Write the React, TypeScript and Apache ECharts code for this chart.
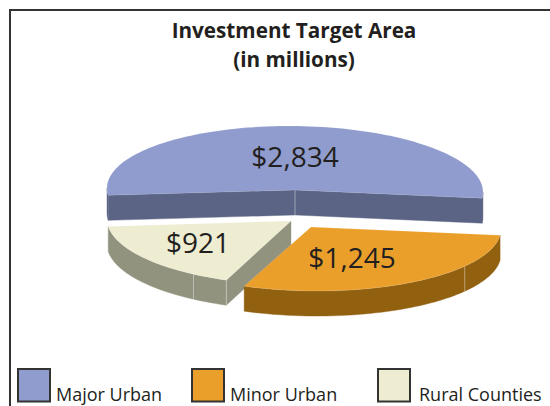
import React, { useEffect, useRef } from "react";
import * as echarts from "echarts";

const titleLines = ["Investment Target Area", "(in millions)"];
const categories = ["Major Urban", "Minor Urban", "Rural Counties"];
const investment = [2834, 1245, 921];
const valueLabels = ["$2,834", "$1,245", "$921"];

const FONT = '"Open Sans", "Noto Sans", sans-serif';
const INK = "#231F20";
const topColors = ["#8F9CCD", "#EB9F2B", "#EEECD1"];
const sideColors = ["#5C6485", "#916110", "#92937F"];
const apexes = [[295, 190], [311, 227], [291, 221]];
const radiiX = [188, 190, 184];
const labelOffsets = [[0, -34], [41, 30], [-93, 21]];
const sideSeams = [[], [36], [122]];
const layers = [1, 3, 2];
const legendSwatchX = [18, 192, 378];
const legendTextX = [56, 230, 419];

const RY = 64;
const DEPTH = 25;
const SHEAR = 0.0107;
const FLATTEN = 0.5; // perspective compression of the slice angles
const START_DEG = 11;

const rad = (d: number) => (d * Math.PI) / 180;

function project(cx: number, cy: number, rx: number, phiDeg: number): number[] {
  const p = rad(phiDeg);
  const t = Math.atan2(FLATTEN * Math.sin(p), Math.cos(p));
  const dx = rx * Math.cos(t);
  return [cx + dx, cy + RY * Math.sin(t) + SHEAR * dx];
}

function screenPoint(cx: number, cy: number, rx: number, thetaDeg: number): number[] {
  const dx = rx * Math.cos(rad(thetaDeg));
  return [cx + dx, cy + RY * Math.sin(rad(thetaDeg)) + SHEAR * dx];
}

const down = (pts: number[][]) => pts.map(([x, y]) => [x, y + DEPTH]);

function renderSlice(params: any, api: any) {
  const i = params.dataIndex;
  const value = api.value(0);
  const total = investment.reduce((a, b) => a + b, 0);
  const before = investment.reduce((a, b, k) => {
    const order = [2, 0, 1]; // the minor slice starts the sweep, then rural, then major
    return order[k] < order[i] ? a + b : a;
  }, 0);
  const startPhi = START_DEG + (before / total) * 360;
  const endPhi = startPhi + (value / total) * 360;
  const [cx, cy] = apexes[i];
  const rx = radiiX[i];
  const z2 = layers[i] * 10;

  const arc: { phi: number; pt: number[] }[] = [];
  const steps = Math.ceil(endPhi - startPhi);
  for (let s = 0; s <= steps; s++) {
    const phi = startPhi + ((endPhi - startPhi) * s) / steps;
    arc.push({ phi, pt: project(cx, cy, rx, phi) });
  }

  const children: any[] = [];
  const side = (pts: number[][]) =>
    children.push({
      type: "polygon",
      z2,
      shape: { points: pts },
      style: { fill: sideColors[i], stroke: sideColors[i], lineWidth: 0.4 },
    });

  // curved outer wall: only the part that faces the viewer
  let run: number[][] = [];
  const flush = () => {
    if (run.length > 1) side([...run, ...down(run).reverse()]);
    run = [];
  };
  arc.forEach(({ phi, pt }) => {
    if (Math.sin(rad(phi)) >= -0.001) run.push(pt);
    else flush();
  });
  flush();

  // straight cut walls
  const startPt = arc[0].pt;
  const endPt = arc[arc.length - 1].pt;
  if (startPt[0] < cx) side([[cx, cy], startPt, ...down([startPt]), ...down([[cx, cy]])]);
  if (endPt[0] > cx) side([[cx, cy], endPt, ...down([endPt]), ...down([[cx, cy]])]);

  const seam = (x: number, y: number) =>
    children.push({
      type: "line",
      z2: z2 + 1,
      shape: { x1: x, y1: y, x2: x, y2: y + DEPTH },
      style: { stroke: "rgba(255,255,255,0.4)", lineWidth: 1 },
    });
  sideSeams[i].forEach((deg) => {
    const [x, y] = screenPoint(cx, cy, rx, deg);
    seam(x, y);
  });
  if (startPt[0] < cx && endPt[0] > cx) seam(cx, cy);
  if (startPt[0] < cx && endPt[0] < cx) seam(startPt[0], startPt[1]);

  children.push({
    type: "polygon",
    z2: z2 + 2,
    shape: { points: [[cx, cy], ...arc.map((a) => a.pt)] },
    style: { fill: topColors[i], stroke: "rgba(255,255,255,0.25)", lineWidth: 0.5 },
  });
  children.push({
    type: "text",
    z2: z2 + 3,
    x: cx + labelOffsets[i][0],
    y: cy + labelOffsets[i][1],
    style: {
      text: valueLabels[i],
      fill: INK,
      font: `400 28px ${FONT}`,
      align: "center",
      verticalAlign: "middle",
    },
  });
  return { type: "group", children };
}

export default function App() {
  const ref = useRef<HTMLDivElement>(null);
  useEffect(() => {
    const chart = echarts.init(ref.current!, undefined, { renderer: "svg" });
    const legend: any[] = [];
    categories.forEach((name, i) => {
      legend.push({
        type: "rect",
        shape: { x: legendSwatchX[i], y: 369, width: 32, height: 32.5 },
        style: { fill: topColors[i], stroke: "#333333", lineWidth: 2 },
      });
      legend.push({
        type: "text",
        x: legendTextX[i],
        y: 394,
        style: { text: name, fill: INK, font: `400 18px ${FONT}`, align: "left", verticalAlign: "middle" },
      });
    });
    chart.setOption({
      animation: false,
      backgroundColor: "#ffffff",
      title: {
        text: titleLines.join("\n"),
        left: 289,
        top: 10,
        textAlign: "center",
        textStyle: { fontFamily: FONT, fontWeight: 700, fontSize: 20.7, lineHeight: 29, color: INK },
      },
      graphic: [
        {
          type: "polyline",
          shape: { points: [[10, 406], [10, 10], [550, 10]] },
          style: { fill: "none", stroke: "#333333", lineWidth: 2 },
        },
        ...legend,
      ],
      series: [
        {
          type: "custom",
          coordinateSystem: "none",
          silent: true,
          renderItem: renderSlice,
          data: investment.map((v, i) => ({ name: categories[i], value: [v] })),
        },
      ],
    });
    return () => chart.dispose();
  }, []);
  return <div ref={ref} style={{ position: "absolute", left: 0, top: 0, width: 550, height: 406 }} />;
}
